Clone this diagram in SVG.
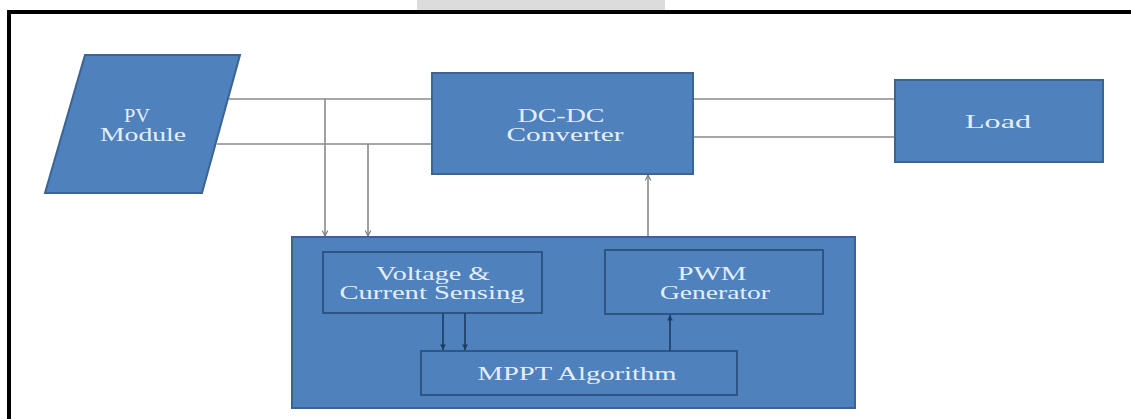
<svg xmlns="http://www.w3.org/2000/svg" width="1131" height="419" viewBox="0 0 1131 419">
<defs>
<style>
.box{fill:#4f81bd;stroke:#3b6494;stroke-width:2}
.inner{fill:#4f81bd;stroke:#2d5686;stroke-width:2}
.t{font-family:"Liberation Serif","Times New Roman",serif;font-size:19px;fill:#e4eefa;text-anchor:middle}
.wire{stroke:#8a8a8a;stroke-width:1.6;fill:none}
.iwire{stroke:#1e3b63;stroke-width:1.6;fill:none}
</style>
<marker id="ag" viewBox="0 0 10 10" refX="9" refY="5" markerWidth="7" markerHeight="7" orient="auto" markerUnits="userSpaceOnUse">
<path d="M1,1 L9,5 L1,9" fill="none" stroke="#7a7a7a" stroke-width="1.6"/>
</marker>
<marker id="ab" viewBox="0 0 10 10" refX="9" refY="5" markerWidth="7" markerHeight="7" orient="auto" markerUnits="userSpaceOnUse">
<path d="M1,1 L9,5 L1,9 Z" fill="#1e3b63"/>
</marker>
</defs>
<rect width="1131" height="419" fill="#ffffff"/>
<rect x="417" y="0" width="248" height="10" fill="#dcdcdc"/>
<path d="M9,419 V12 H1131" fill="none" stroke="#000" stroke-width="4"/>

<g id="connectors">
<line class="wire" x1="229" y1="99" x2="432" y2="99"/>
<line class="wire" x1="217" y1="144" x2="432" y2="144"/>
<line class="wire" x1="325" y1="99" x2="325" y2="236" marker-end="url(#ag)"/>
<line class="wire" x1="368" y1="144" x2="368" y2="236" marker-end="url(#ag)"/>
<line class="wire" x1="693" y1="99" x2="895" y2="99"/>
<line class="wire" x1="693" y1="137" x2="895" y2="137"/>
<line class="wire" x1="648" y1="237" x2="648" y2="175" marker-end="url(#ag)"/>
</g>

<g id="pv-module">
<polygon class="box" points="85,55 240,55 202,193 45,193"/>
<text class="t" x="137" y="122" textLength="26" lengthAdjust="spacingAndGlyphs">PV</text>
<text class="t" x="143" y="141" textLength="86" lengthAdjust="spacingAndGlyphs">Module</text>
</g>

<g id="dc-dc">
<rect class="box" x="432" y="73" width="261" height="101"/>
<text class="t" x="561" y="122" textLength="87" lengthAdjust="spacingAndGlyphs">DC-DC</text>
<text class="t" x="565" y="141" textLength="117" lengthAdjust="spacingAndGlyphs">Converter</text>
</g>

<g id="load">
<rect class="box" x="895" y="80" width="208" height="82"/>
<text class="t" x="998" y="128" textLength="66" lengthAdjust="spacingAndGlyphs">Load</text>
</g>

<g id="controller">
<rect class="box" x="292" y="237" width="563" height="171"/>
</g>

<g id="sensing">
<rect class="inner" x="323" y="252" width="219" height="61"/>
<text class="t" x="433" y="280" textLength="114" lengthAdjust="spacingAndGlyphs">Voltage &amp;</text>
<text class="t" x="432" y="299" textLength="185" lengthAdjust="spacingAndGlyphs">Current Sensing</text>
</g>

<g id="pwm">
<rect class="inner" x="605" y="250" width="218" height="64"/>
<text class="t" x="712" y="280" textLength="69" lengthAdjust="spacingAndGlyphs">PWM</text>
<text class="t" x="715" y="299" textLength="110" lengthAdjust="spacingAndGlyphs">Generator</text>
</g>

<g id="mppt">
<rect class="inner" x="421" y="351" width="316" height="44"/>
<text class="t" x="577" y="380" textLength="199" lengthAdjust="spacingAndGlyphs">MPPT Algorithm</text>
</g>

<g id="inner-connectors">
<line class="iwire" x1="443" y1="313" x2="443" y2="350" marker-end="url(#ab)"/>
<line class="iwire" x1="465" y1="313" x2="465" y2="350" marker-end="url(#ab)"/>
<line class="iwire" x1="670" y1="351" x2="670" y2="315" marker-end="url(#ab)"/>
</g>
</svg>
